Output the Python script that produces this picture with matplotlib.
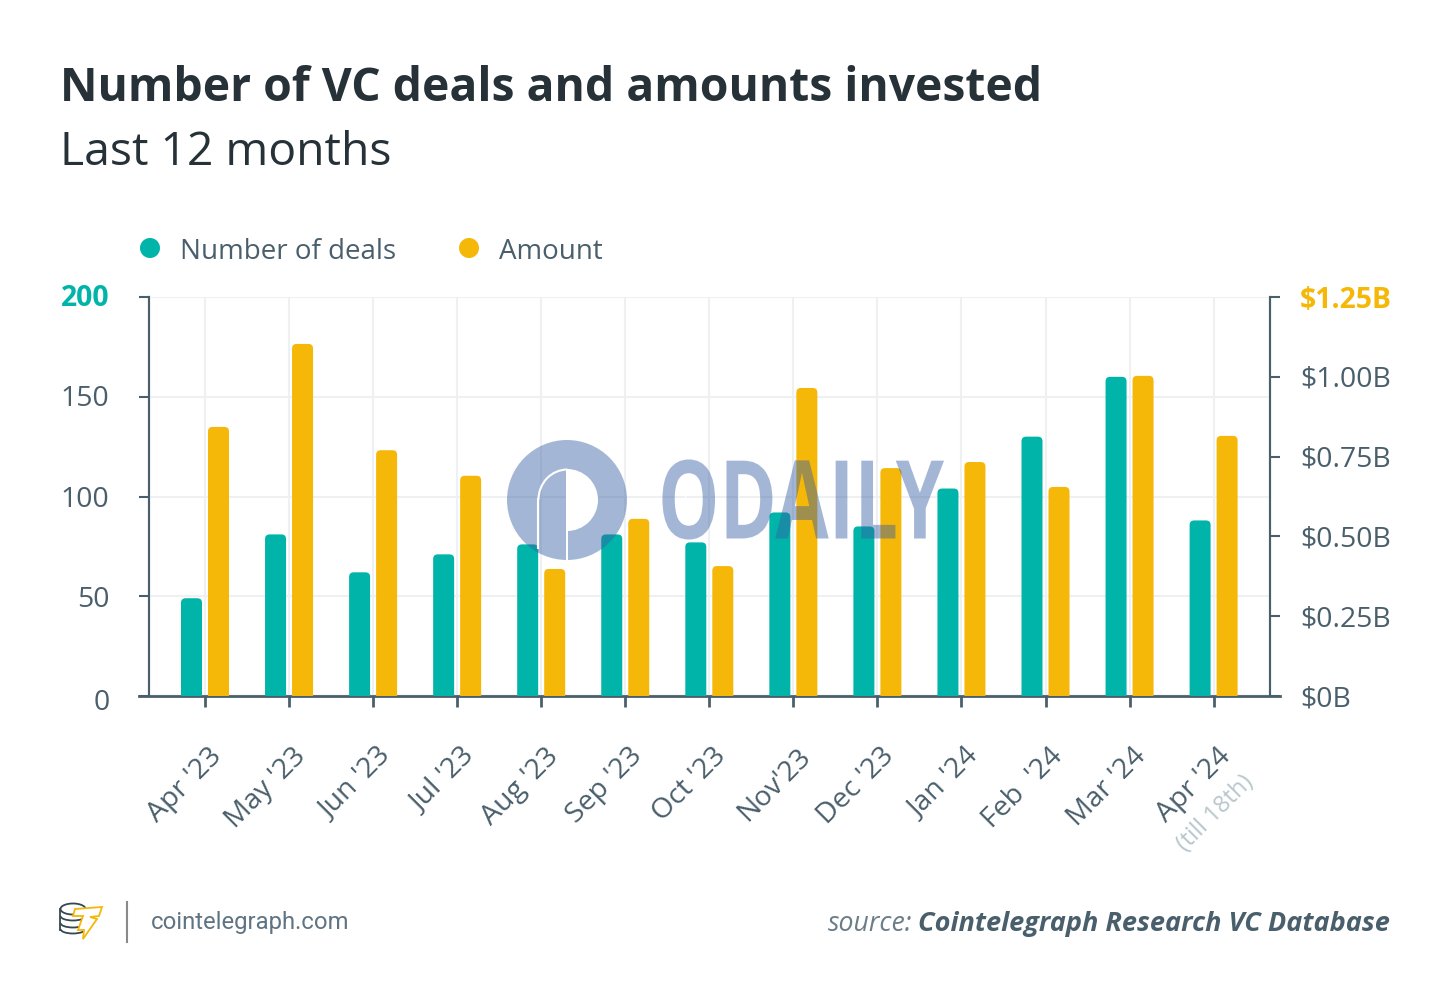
import numpy as np
import matplotlib
matplotlib.use("Agg")
import matplotlib.pyplot as plt
from matplotlib.patches import Circle, FancyBboxPatch, Rectangle, Wedge, Arc, Polygon
from matplotlib.patheffects import AbstractPathEffect
from matplotlib.transforms import Affine2D, ScaledTranslation

months = ["Apr '23", "May '23", "Jun '23", "Jul '23", "Aug '23", "Sep '23", "Oct '23",
          "Nov'23", "Dec '23", "Jan '24", "Feb  '24", "Mar '24", "Apr '24"]
deals = [49, 81, 62, 71, 76, 81, 77, 92, 85, 104, 130, 160, 88]
amounts = [0.843, 1.103, 0.77, 0.69, 0.398, 0.555, 0.407, 0.965, 0.714, 0.733, 0.655, 1.003, 0.815]
deal_ticks = [0, 50, 100, 150, 200]
amount_ticks = [0, 0.25, 0.5, 0.75, 1.0, 1.25]
amount_labels = ["$0B", "$0.25B", "$0.50B", "$0.75B", "$1.00B", "$1.25B"]

TEAL = "#00b4a9"
YELLOW = "#f5b708"
DARK = "#4a5f6c"
TITLE = "#263238"
W, H = 1450, 1002
STEP = 84.05

plt.rcParams["font.family"] = ["Open Sans", "DejaVu Sans"]


class SqueezeX(AbstractPathEffect):
    # narrows text horizontally around x0 (display pixels), no condensed font here
    def __init__(self, sx, x0):
        super().__init__()
        self.sx = sx
        self.x0 = x0

    def draw_path(self, renderer, gc, tpath, affine, rgbFace=None):
        t = affine + Affine2D().translate(-self.x0, 0).scale(self.sx, 1).translate(self.x0, 0)
        renderer.draw_path(gc, tpath, t, rgbFace)


fig = plt.figure(figsize=(W / 100, H / 100), dpi=100)
ax = fig.add_axes([149 / W, 1 - 696 / H, (1270 - 149) / W, (696 - 297) / H])
ax2 = ax.twinx()
x = np.arange(len(months))


def rounded_bars(axis, xs, vals, color, ymax):
    # bars with rounded tops, the bottom corners hide under the axis
    w = 21 / STEP
    aspect = (ymax / 399) / (1 / STEP)
    pad = ymax * 0.03
    for xi, v in zip(xs, vals):
        axis.add_patch(FancyBboxPatch((xi - w / 2, -pad), w, v + pad,
                                      boxstyle="round,pad=0,rounding_size=0.055",
                                      mutation_aspect=aspect, fc=color, ec="none", zorder=3))


ax.set_xlim(-56 / STEP, 1121 / STEP - 56 / STEP)
ax.set_ylim(0, 200)
ax2.set_ylim(0, 1.25)
ax.set_zorder(ax2.get_zorder() + 1)
ax.patch.set_visible(False)

rounded_bars(ax, x - 13.5 / STEP, deals, TEAL, 200)
rounded_bars(ax, x + 13.5 / STEP, amounts, YELLOW, 1.25)
# second series is in $B, so its bars go on the right axis
for p in ax.patches[len(months):]:
    p.set_transform(ax2.transData)
    p.set_clip_path(ax2.patch)

ax.set_xticks(x)
ax.set_xticklabels(months, rotation=45, ha="right", va="top", rotation_mode="anchor",
                   fontsize=20.4, color=DARK)
ax.tick_params(axis="x", length=8, width=2, color=DARK, pad=25.5)
for lab in ax.get_xticklabels():
    lab.set_transform(lab.get_transform() + ScaledTranslation(3 / 100, 0, fig.dpi_scale_trans))

ax.set_yticks(deal_ticks)
ax.set_yticklabels(deal_ticks, fontsize=20.4, color=DARK)
ax.tick_params(axis="y", length=7.5, width=1.5, color=DARK, pad=21)
ax.get_yticklabels()[-1].set_color(TEAL)
ax.get_yticklabels()[-1].set_fontweight("bold")
for lab, dy in zip(ax.get_yticklabels(), [-3, 0, 0, 1, 2]):
    lab.set_transform(lab.get_transform() + ScaledTranslation(0, dy / 100, fig.dpi_scale_trans))
ax.grid(True, color="#eef0f1", lw=1.5, zorder=0)
ax.set_axisbelow(True)

ax2.set_yticks(amount_ticks)
ax2.set_yticklabels(amount_labels, fontsize=20.4, color=DARK)
ax2.tick_params(axis="y", length=7.5, width=1.5, color=DARK, pad=14)
ax2.get_yticklabels()[-1].set_color(YELLOW)
ax2.get_yticklabels()[-1].set_fontweight("bold")
for lab, dy in zip(ax2.get_yticklabels(), [0, 0, 0, 1, 1, 0]):
    lab.set_transform(lab.get_transform() + ScaledTranslation(0, dy / 100, fig.dpi_scale_trans))

for a in (ax, ax2):
    a.spines["top"].set_visible(False)
    for s in ("left", "right", "bottom"):
        a.spines[s].set_color(DARK)
        a.spines[s].set_linewidth(1.5)
ax.spines["bottom"].set_linewidth(2)
ax.spines["bottom"].set_bounds(-66 / STEP, 1121 / STEP - 56 / STEP + 10 / STEP)

# overlay in pixel coordinates for header, legend, footer and watermark
ov = fig.add_axes([0, 0, 1, 1], zorder=10)
ov.set_xlim(0, W)
ov.set_ylim(H, 0)
ov.axis("off")

ov.text(60, 88, "Number of VC deals and amounts invested", fontsize=33.3, fontweight="bold",
        color=TITLE, va="center")
ov.text(60, 153, "Last 12 months", fontsize=33.3, color=TITLE, va="center")

ov.add_patch(Circle((150, 248), 10, fc=TEAL, ec="none"))
ov.text(180, 252, "Number of deals", fontsize=20, color=DARK, va="center")
ov.add_patch(Circle((469, 248), 10, fc=YELLOW, ec="none"))
ov.text(499, 252, "Amount", fontsize=20, color=DARK, va="center")

ov.text(1181, 848, "(till 18th)", fontsize=17.2, color="#b7c7cd", rotation=45,
        rotation_mode="anchor", ha="left", va="center")

# footer
ov.text(1390, 924, "Cointelegraph Research VC Database", fontsize=19.5, fontweight="bold",
        style="italic", color=DARK, ha="right", va="center")
ov.text(912, 924, "source:", fontsize=19.2, style="italic", color="#6b7d88", ha="right", va="center")
ov.text(151, 922, "cointelegraph.com", fontsize=17.2, family="Roboto",
        color="#5f7482", va="center")
ov.plot([127, 127], [902, 942], color="#8a8a8a", lw=1.5)
ov.add_patch(Arc((73, 909), 25, 11, fc="none", ec="#37474f", lw=1.3))
for yc in (916, 923, 929):
    ov.add_patch(Arc((73, yc), 25, 9, theta1=0, theta2=180, ec="#37474f", lw=1.3))
ov.plot([60.5, 60.5], [909, 930], color="#37474f", lw=1.3)
ov.add_patch(Polygon([(75, 909), (102, 907), (99, 916), (90, 917), (97, 919), (83, 939),
                      (84, 930), (78, 930), (83, 916), (73, 916)],
                     closed=True, fc="white", ec="#f5b708", lw=1.3))

# ODAILY watermark
WM = "#375fa4"
ov.add_patch(Circle((567, 500), 60, fc=WM, ec="none", alpha=0.45))
ov.add_patch(Wedge((567, 500), 31, -90, 90, fc="white", ec="none"))
ov.add_patch(Rectangle((566, 469), 2, 91, fc="white", ec="none"))
ov.add_patch(Arc((567.5, 499.5), 58, 60, theta1=180, theta2=270, ec="white", lw=1.5))
ov.plot([538.5, 538.5], [499, 548], color="white", lw=1.5)

ov.text(801, 510, "ODAILY", fontsize=78.5, fontweight="bold", color=WM, alpha=0.45,
        ha="center", va="center", path_effects=[SqueezeX(0.71, 801)])
ov.plot([685.5, 685.5], [456, 542], color="white", lw=1)
ov.plot([738, 738], [456, 542], color="white", lw=1)

fig.savefig("out.png", dpi=100)
